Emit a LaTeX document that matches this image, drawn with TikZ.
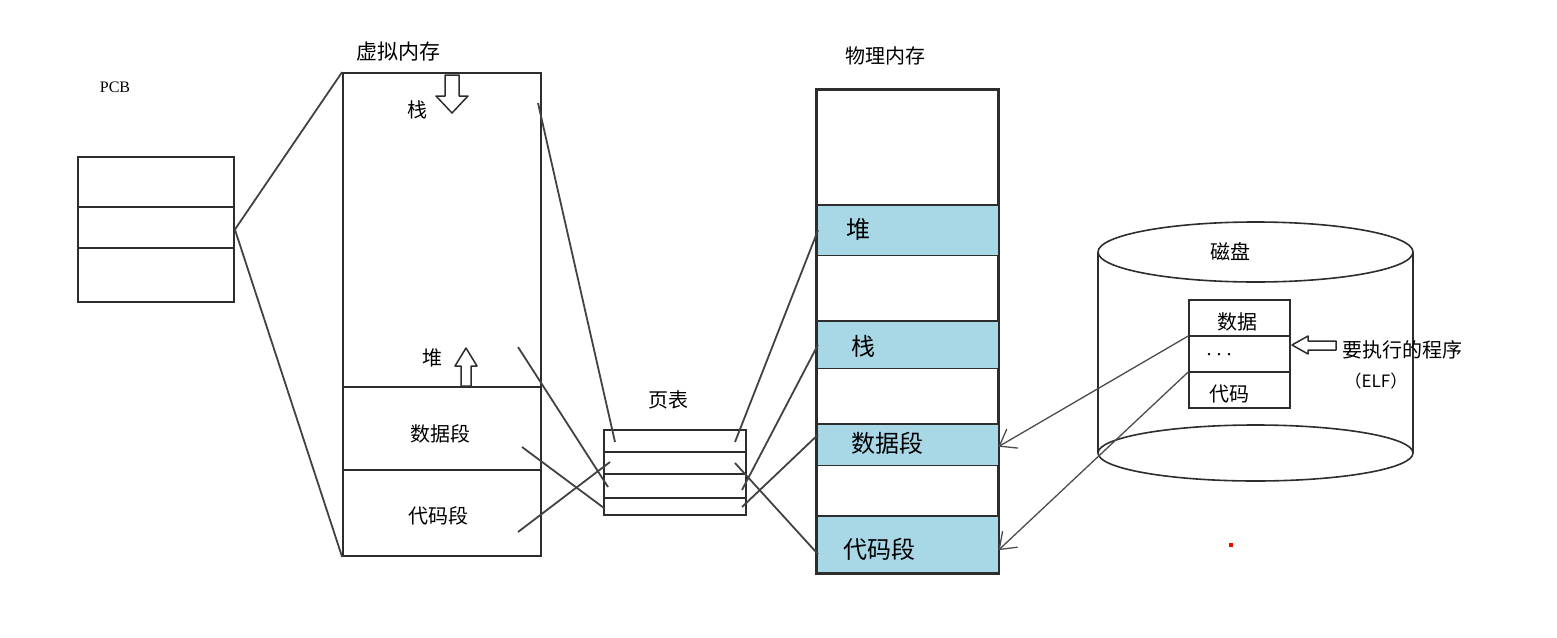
\documentclass[tikz,border=0pt]{standalone}
\usepackage{fontspec}
\setmainfont{Noto Sans CJK SC}
\newfontfamily\pcbfont{Liberation Serif}
\usetikzlibrary{arrows.meta}
\definecolor{ink}{RGB}{45,45,45}
\definecolor{bandblue}{RGB}{168,216,230}
\tikzset{
  sk/.style={draw=ink, line width=1.8pt},
  box/.style={sk, rectangle, inner sep=0pt, fill=white},
  lbl/.style={inner sep=0pt, font=\fontsize{20}{22}\selectfont},
  blbl/.style={inner sep=0pt, font=\fontsize{24}{27}\selectfont},
  band/.style={rectangle, inner sep=0pt, fill=bandblue, minimum width=180pt},
  conn/.style={draw=ink!90, line width=1.8pt},
  load/.style={draw=ink!85, line width=1.3pt, -{Straight Barb[length=15pt,width=22pt,line width=1.3pt]}},
  blockarrow/.style={draw=ink, line width=1.5pt, fill=white, line join=round},
}
\begin{document}
\begin{tikzpicture}[x=1pt,y=-1pt]
\useasboundingbox (0,0) rectangle (1557,637);
\fill[white] (0,0) rectangle (1557,637);

% ---------- PCB ----------
\node[lbl, font=\pcbfont\fontsize{16}{18}\selectfont] (pcbt) at (115,87) {PCB};
\node[box, minimum width=156pt, minimum height=145pt] (pcb) at (156,229.5) {};
\draw[sk] (pcb.west |- 0,207) -- (pcb.east |- 0,207);
\draw[sk] (pcb.west |- 0,248) -- (pcb.east |- 0,248);

% ---------- virtual memory ----------
\node[lbl, font=\fontsize{21}{24}\selectfont] (vmt) at (398,52) {虚拟内存};
\node[box, minimum width=198pt, minimum height=483pt] (vm) at (442,314.5) {};
\draw[sk] (vm.west |- 0,387) -- (vm.east |- 0,387);
\draw[sk] (vm.west |- 0,470) -- (vm.east |- 0,470);
\node[lbl] (stack) at (417,110) {栈};
\node[lbl] (heap) at (432,358) {堆};
\node[lbl] (data) at (440,434) {数据段};
\node[lbl] (code) at (438,516) {代码段};
% stack grows down
\draw[blockarrow] (445,75) -- (459,75) -- (459,96) -- (468,96) -- (452,113) -- (436,96) -- (445,96) -- cycle;
% heap grows up
\draw[blockarrow] (461,386) -- (471,386) -- (471,366) -- (477,366) -- (466,348) -- (455,366) -- (461,366) -- cycle;

\draw[conn] (pcb.east) -- (vm.north west);
\draw[conn] (pcb.east) -- (vm.south west);

% ---------- page table ----------
\node[lbl] (ptt) at (668,400) {页表};
\node[box, minimum width=142pt, minimum height=85pt] (pt) at (675,472.5) {};
\draw[sk] (pt.west |- 0,452) -- (pt.east |- 0,452);
\draw[sk] (pt.west |- 0,474) -- (pt.east |- 0,474);
\draw[sk] (pt.west |- 0,498) -- (pt.east |- 0,498);

% ---------- physical memory ----------
\node[lbl] (pmt) at (885,56) {物理内存};
\node[box, minimum width=181pt, minimum height=483pt] (pm) at (907.5,331.5) {};
\node[band, minimum height=50pt, anchor=north west] (pheap) at (818,205) {};
\node[band, minimum height=47pt, anchor=north west] (pstack) at (818,321) {};
\node[band, minimum height=41pt, anchor=north west] (pdata) at (818,424) {};
\node[band, minimum height=56pt, anchor=north west] (pcode) at (818,516) {};
\foreach \b in {pheap,pstack,pdata,pcode}{
  \draw[sk] (pm.west |- \b.north) -- (pm.east |- \b.north);
  \draw[sk] (pm.west |- \b.south) -- (pm.east |- \b.south);
}
\draw[sk] (pm.north west) rectangle (pm.south east);
\node[blbl] (pheapl) at (858,229) {堆};
\node[blbl] (pstackl) at (863,346) {栈};
\node[blbl] (pdatal) at (887,443) {数据段};
\node[blbl] (pcodel) at (879,549) {代码段};

% ---------- connectors virtual -> page table ----------
\coordinate (a1) at (538,103);
\coordinate (a2) at (518,347);
\coordinate (a3) at (522,447);
\coordinate (a4) at (518,532);
\coordinate (b1) at (615,442);
\coordinate (b2) at (608,487);
\coordinate (b3) at (604,508);
\coordinate (b4) at (610,462);
\draw[conn] (a1) -- (b1);
\draw[conn] (a2) -- (b2);
\draw[conn] (a3) -- (b3);
\draw[conn] (a4) -- (b4);

% ---------- connectors page table -> physical ----------
\coordinate (c1) at (735,442);
\coordinate (c2) at (742,490);
\coordinate (c3) at (735,463);
\coordinate (c4) at (742,507);
\draw[conn] (c1) -- (pheap.west);
\draw[conn] (c2) -- (pstack.west);
\draw[conn] (c3) -- ([yshift=-10pt]pcode.west);
\draw[conn] (c4) -- ([yshift=10pt]pdata.west);

% ---------- disk ----------
\draw[sk, line width=1.6pt] (1098,252) -- (1098,453);
\draw[sk, line width=1.6pt] (1413,252) -- (1413,453);
\draw[sk, line width=1.6pt, fill=white] (1255.5,453) ellipse [x radius=157.5pt, y radius=28pt];
\draw[sk, line width=1.6pt, fill=white] (1255.5,252) ellipse [x radius=157.5pt, y radius=30pt];
\node[lbl] (diskt) at (1230,252) {磁盘};
\node[box, line width=1.6pt, minimum width=101pt, minimum height=108pt] (elf) at (1239.5,354) {};
\draw[sk, line width=1.6pt] (elf.west |- 0,336) -- (elf.east |- 0,336);
\draw[sk, line width=1.6pt] (elf.west |- 0,372) -- (elf.east |- 0,372);
\node[lbl] (elfdata) at (1237,322) {数据};
\node[lbl, font=\pcbfont\fontsize{20}{22}\selectfont] (elfdots) at (1219,355) {.\hspace{5pt}.\hspace{5pt}.};
\node[lbl] (elfcode) at (1229,394) {代码};
% program pointer arrow
\draw[blockarrow] (1292,345) -- (1308,336) -- (1308,341) -- (1336,341) -- (1336,350) -- (1308,350) -- (1308,354) -- cycle;
\node[lbl, anchor=west] (prog) at (1342,350) {要执行的程序};
\node[lbl, font=\fontsize{17}{20}\selectfont] (elft) at (1376,381) {（ELF）};

% ---------- load arrows ----------
\draw[load] (elf.west |- 0,336) -- ([yshift=-2pt]pdata.east);
\draw[load] (elf.west |- 0,372) -- ([yshift=-6pt]pcode.east);

% stray mark
\fill[red] (1229,543) rectangle (1233,547);
\end{tikzpicture}
\end{document}
